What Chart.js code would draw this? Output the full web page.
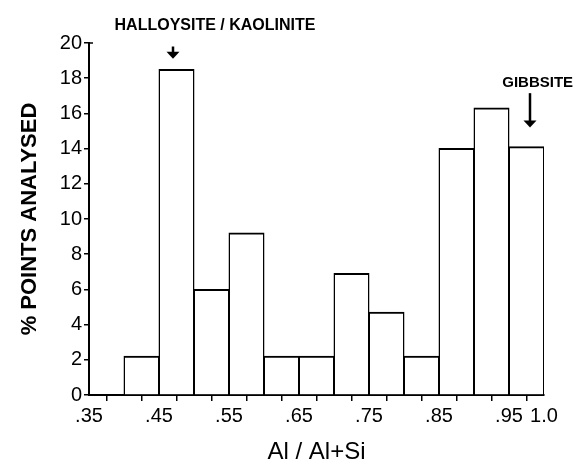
<!DOCTYPE html>
<html>
<head>
<meta charset="utf-8">
<script src="https://cdn.jsdelivr.net/npm/chart.js@4.4.1/dist/chart.umd.min.js"></script>
<style>
  html, body { margin: 0; padding: 0; background: #fff; }
  #wrap { width: 575px; height: 467px; position: relative; }
</style>
</head>
<body>
<div id="wrap"><canvas id="c" width="575" height="467"></canvas></div>
<script>
// ---- Data ----
const binCenters = [0.425, 0.475, 0.525, 0.575, 0.625, 0.675, 0.725, 0.775, 0.825, 0.875, 0.925, 0.975];
const percentPoints = [2.2, 18.5, 6.0, 9.2, 2.2, 2.2, 6.9, 4.7, 2.2, 14.0, 16.3, 14.1];
const xTickValues = [0.35, 0.45, 0.55, 0.65, 0.75, 0.85, 0.95, 1.0];
const xTickLabels = ['.35', '.45', '.55', '.65', '.75', '.85', '.95', '1.0'];
const yTickStep = 2;
const annotationTexts = ['HALLOYSITE / KAOLINITE', 'GIBBSITE'];
const annotationTextX = [0.53, 0.991];
const annotationTextY = [21.0, 17.75];
const annotationArrowX = [0.47, 0.98];
const annotationArrowTop = [19.8, 17.15];
const annotationArrowTip = [19.1, 15.2];
const annotationFontSize = [16, 15];

const labelMap = {};
xTickValues.forEach((v, i) => { labelMap[Math.round(v * 100)] = xTickLabels[i]; });

const annotationPlugin = {
  id: 'annotations',
  afterDraw(chart) {
    const ctx = chart.ctx;
    const xs = chart.scales.x, ys = chart.scales.y;
    ctx.save();
    ctx.fillStyle = '#000';
    ctx.strokeStyle = '#000';
    for (let i = 0; i < annotationTexts.length; i++) {
      ctx.font = 'bold ' + annotationFontSize[i] + 'px "Liberation Sans", Arial, sans-serif';
      ctx.textAlign = 'center';
      ctx.textBaseline = 'middle';
      ctx.fillText(annotationTexts[i], xs.getPixelForValue(annotationTextX[i]), ys.getPixelForValue(annotationTextY[i]));
      const ax = xs.getPixelForValue(annotationArrowX[i]);
      const y0 = ys.getPixelForValue(annotationArrowTop[i]);
      const y1 = ys.getPixelForValue(annotationArrowTip[i]);
      ctx.lineWidth = 2.5;
      ctx.beginPath();
      ctx.moveTo(ax, y0);
      ctx.lineTo(ax, y1 - 6);
      ctx.stroke();
      ctx.beginPath();
      ctx.moveTo(ax - 6.5, y1 - 7);
      ctx.lineTo(ax + 6.5, y1 - 7);
      ctx.lineTo(ax, y1);
      ctx.closePath();
      ctx.fill();
    }
    // small hook at top of y axis
    const top = ys.getPixelForValue(20);
    const left = xs.left;
    ctx.lineWidth = 1.5;
    ctx.beginPath();
    ctx.moveTo(left - 1, top);
    ctx.lineTo(left + 4, top);
    ctx.stroke();
    ctx.restore();
  }
};

new Chart(document.getElementById('c'), {
  type: 'bar',
  data: {
    datasets: [{
      data: binCenters.map((x, i) => ({ x: x, y: percentPoints[i] })),
      backgroundColor: '#ffffff',
      borderColor: '#000000',
      borderWidth: { top: 2, left: 1.5, right: 1.5, bottom: 0 },
      barPercentage: 1.0,
      categoryPercentage: 1.0,
      borderSkipped: 'bottom',
      inflateAmount: 0.5
    }]
  },
  options: {
    responsive: false,
    animation: false,
    devicePixelRatio: 1,
    layout: { padding: { top: 43, right: 31, left: 0, bottom: 0 } },
    plugins: { legend: { display: false }, tooltip: { enabled: false } },
    scales: {
      x: {
        type: 'linear',
        min: 0.35,
        max: 1.0,
        offset: false,
        afterFit(scale) { scale.height = 72; },
        afterBuildTicks(scale) {
          const t = [];
          for (let k = 35; k <= 100; k += 5) t.push({ value: k / 100 });
          scale.ticks = t;
        },
        ticks: {
          autoSkip: false,
          maxRotation: 0,
          padding: 3,
          color: '#000',
          font: { family: '"Liberation Sans", Arial, sans-serif', size: 20 },
          callback(v) { const k = Math.round(v * 100); return labelMap[k] !== undefined ? labelMap[k] : ''; }
        },
        grid: { drawOnChartArea: false, drawTicks: true, tickLength: 6, color: '#000', lineWidth: 1.5 },
        border: { display: true, color: '#000', width: 2 },
        title: {
          display: true,
          text: 'Al / Al+Si',
          color: '#000',
          font: { family: '"Liberation Sans", Arial, sans-serif', size: 24 },
          padding: { top: 0, bottom: 0 }
        }
      },
      y: {
        min: 0,
        max: 20,
        afterFit(scale) { scale.width = 89; },
        ticks: {
          stepSize: yTickStep,
          padding: 2,
          color: '#000',
          font: { family: '"Liberation Sans", Arial, sans-serif', size: 20 }
        },
        grid: { drawOnChartArea: false, drawTicks: true, tickLength: 5, color: '#000', lineWidth: 1.5 },
        border: { display: true, color: '#000', width: 2 },
        title: {
          display: true,
          text: '% POINTS ANALYSED',
          color: '#000',
          font: { family: '"Liberation Sans", Arial, sans-serif', size: 22, weight: 'bold' },
          padding: { top: 17, bottom: 0 }
        }
      }
    }
  },
  plugins: [annotationPlugin]
});
</script>
</body>
</html>
